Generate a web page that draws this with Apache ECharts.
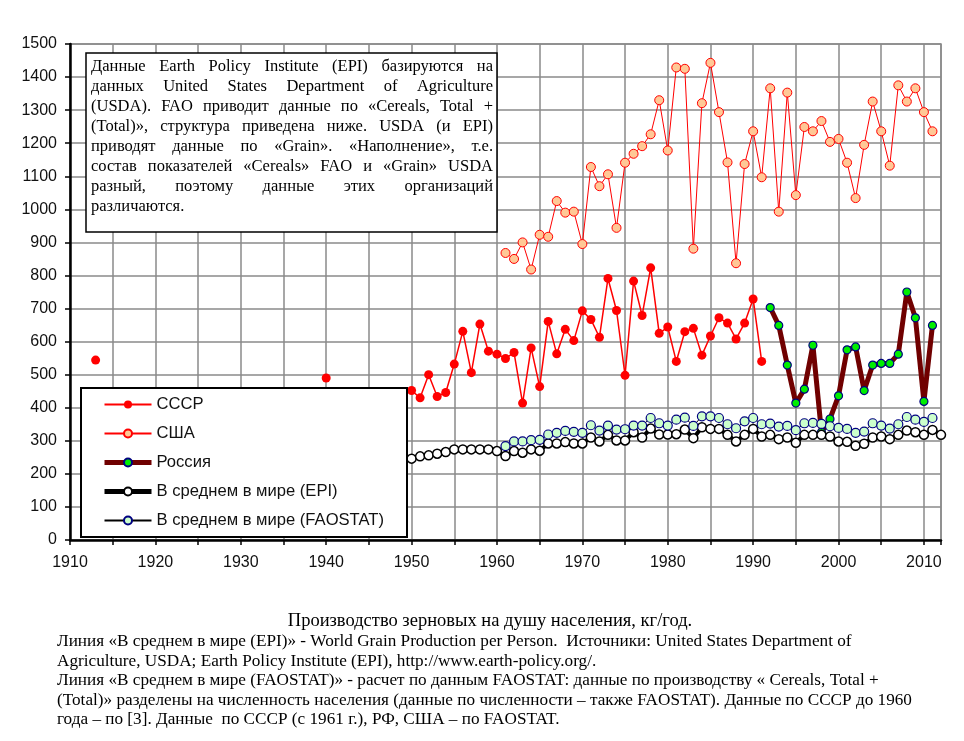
<!DOCTYPE html>
<html><head><meta charset="utf-8">
<script src="https://cdn.jsdelivr.net/npm/echarts@6/dist/echarts.min.js"></script>
<style>html,body{margin:0;padding:0;background:#fff}#c{width:964px;height:741px}</style>
</head><body><div id="c"></div>
<script>
// ---- data ----
const seriesNames = ['СССР', 'США', 'Россия', 'В среднем в мире (EPI)', 'В среднем в мире (FAOSTAT)'];
const ussrEarlyYears = [1913, 1940];
const ussrEarlyValues = [544, 490];
const ussrStart = 1950;
const ussrValues = [452, 430, 500, 434, 446, 532, 631, 506, 653, 571,
  562, 549, 567, 414, 581, 464, 661, 563, 637, 603,
  693, 667, 613, 791, 694, 498, 783, 679, 823, 625,
  644, 540, 630, 640, 559, 617, 672, 656, 608, 656,
  729, 540];
const usaStart = 1961;
const usaValues = [868, 850, 900, 818, 923, 917, 1025, 990, 993, 895,
  1128, 1070, 1106, 944, 1141, 1168, 1191, 1227, 1330, 1178,
  1429, 1425, 881, 1321, 1443, 1294, 1142, 837, 1137, 1236,
  1097, 1366, 993, 1353, 1043, 1249, 1236, 1267, 1204, 1213,
  1141, 1034, 1195, 1326, 1236, 1132, 1375, 1326, 1366, 1294, 1236];
const russiaStart = 1992;
const russiaValues = [703, 649, 529, 414, 456, 589, 326, 366, 436, 575,
  584, 452, 529, 534, 534, 562, 750, 672, 419, 649];
const epiStart = 1950;
const epiValues = [246, 253, 256, 261, 266, 274, 274, 274, 274, 274,
  269, 254, 269, 264, 274, 270, 292, 292, 296, 292,
  292, 310, 298, 318, 301, 301, 326, 310, 337, 319,
  319, 320, 334, 308, 341, 336, 336, 318, 298, 318,
  336, 313, 318, 305, 310, 294, 318, 318, 318, 313,
  298, 297, 285, 291, 310, 313, 305, 318, 331, 326,
  318, 333, 318];
const faoStart = 1961;
const faoValues = [284, 298, 298, 302, 303, 319, 324, 330, 327, 324,
  347, 331, 346, 334, 335, 346, 346, 369, 353, 346,
  364, 370, 345, 374, 374, 369, 350, 338, 359, 369,
  350, 352, 343, 345, 332, 353, 354, 351, 344, 339,
  336, 324, 328, 353, 346, 337, 350, 372, 364, 357, 369];
const boxLines = [
  'Данные Earth Policy Institute (EPI) базируются на',
  'данных United States Department of Agriculture',
  '(USDA). FAO приводит данные по «Cereals, Total +',
  '(Total)», структура приведена ниже. USDA (и EPI)',
  'приводят данные по «Grain». «Наполнение», т.е.',
  'состав показателей «Cereals» FAO и «Grain» USDA',
  'разный, поэтому данные этих организаций',
  'различаются.'
];
const captionTitle = 'Производство зерновых на душу населения, кг/год.';
const captionLines = [
  'Линия «В среднем в мире (EPI)» - World Grain Production per Person.  Источники: United States Department of',
  'Agriculture, USDA; Earth Policy Institute (EPI), http://www.earth-policy.org/.',
  'Линия «В среднем в мире (FAOSTAT)» - расчет по данным FAOSTAT: данные по производству « Cereals, Total +',
  '(Total)» разделены на численность населения (данные по численности – также FAOSTAT). Данные по СССР до 1960',
  'года – по [3]. Данные  по СССР (с 1961 г.), РФ, США – по FAOSTAT.'
];

// ---- build ----
function pairs(start, vals) { return vals.map((v, i) => [start + i, v]); }
const ussrData = [];
ussrEarlyYears.forEach((y, i) => { ussrData.push([y, ussrEarlyValues[i]]); ussrData.push([y + 1, null]); });
pairs(ussrStart, ussrValues).forEach(p => ussrData.push(p));

const canvas = document.createElement('canvas');
const ctx = canvas.getContext('2d');
const boxFontSize = 16.5;
ctx.font = boxFontSize + 'px "Liberation Serif"';
const graphics = [];
graphics.push({ type: 'rect', z: 50, shape: { x: 86, y: 53, width: 411, height: 179 },
  style: { fill: '#fff', stroke: '#000', lineWidth: 1.5 } });
graphics.push({ type: 'rect', z: 50, shape: { x: 81, y: 388, width: 326, height: 149 },
  style: { fill: '#fff', stroke: '#000', lineWidth: 2 } });
const boxLeft = 91, boxW = 402;
boxLines.forEach((line, li) => {
  const words = line.split(' ');
  const widths = words.map(w => ctx.measureText(w).width);
  const total = widths.reduce((a, b) => a + b, 0);
  const last = li === boxLines.length - 1;
  const gap = last ? ctx.measureText(' ').width : (boxW - total) / (words.length - 1);
  let x = boxLeft;
  words.forEach((w, wi) => {
    graphics.push({ type: 'text', z: 51, x: x, y: 67 + li * 20,
      style: { text: w, fontSize: boxFontSize, fontFamily: 'Liberation Serif', fill: '#000', verticalAlign: 'middle', align: 'left' } });
    x += widths[wi] + gap;
  });
});
graphics.push({ type: 'text', z: 51, x: 490, y: 621,
  style: { text: captionTitle, fontSize: 18.5, fontFamily: 'Liberation Serif', fill: '#000', align: 'center', verticalAlign: 'middle' } });
captionLines.forEach((t, i) => {
  graphics.push({ type: 'text', z: 51, x: 57, y: 641.5 + i * 19.5,
    style: { text: t, fontSize: 17.2, fontFamily: 'Liberation Serif', fill: '#000', align: 'left', verticalAlign: 'middle' } });
});

const chart = echarts.init(document.getElementById('c'), null, { renderer: 'canvas' });
chart.setOption({
  animation: false,
  backgroundColor: '#fff',
  grid: { left: 70, right: 23, top: 44, bottom: 201, show: true, borderColor: '#8a8a8a', borderWidth: 1.5 },
  xAxis: {
    type: 'value', min: 1910, max: 2012, interval: 5,
    axisLine: { lineStyle: { color: '#000', width: 2.5 } },
    axisTick: { length: 5, lineStyle: { color: '#000', width: 1.5 } },
    axisLabel: { margin: 15, fontSize: 16, fontFamily: 'Liberation Sans', color: '#111',
      formatter: v => (v % 10 === 0 ? String(v) : '') },
    splitLine: { show: true, lineStyle: { color: '#8a8a8a', width: 1.5 } }
  },
  yAxis: {
    type: 'value', min: 0, max: 1500, interval: 100,
    axisLine: { show: true, lineStyle: { color: '#000', width: 2.5 } },
    axisTick: { show: true, length: 5, lineStyle: { color: '#000', width: 1.5 } },
    axisLabel: { margin: 13, fontSize: 16, fontFamily: 'Liberation Sans', color: '#111',
      formatter: v => String(v) },
    splitLine: { show: true, lineStyle: { color: '#8a8a8a', width: 1.5 } }
  },
  legend: {
    data: [
      { name: seriesNames[0] },
      { name: seriesNames[1] },
      { name: seriesNames[2], lineStyle: { width: 5 } },
      { name: seriesNames[3], lineStyle: { width: 5 } },
      { name: seriesNames[4] }
    ],
    orient: 'vertical', left: 97, top: 391, z: 60,
    itemWidth: 47, itemHeight: 10, itemGap: 12, itemSymbolSize: 9,
    textStyle: { fontSize: 16.6, fontFamily: 'Liberation Sans', color: '#111' }
  },
  graphic: graphics,
  series: [
    { name: seriesNames[0], type: 'line', data: ussrData, symbol: 'circle', symbolSize: 9,
      lineStyle: { color: '#ff0000', width: 1.5 }, itemStyle: { color: '#ff0000', borderWidth: 0 } },
    { name: seriesNames[1], type: 'line', data: pairs(usaStart, usaValues), symbol: 'circle', symbolSize: 9,
      lineStyle: { color: '#ff0000', width: 1 }, itemStyle: { color: '#ffc896', borderColor: '#ff0000', borderWidth: 1 } },
    { name: seriesNames[2], type: 'line', data: pairs(russiaStart, russiaValues), symbol: 'circle', symbolSize: 8,
      lineStyle: { color: '#700000', width: 5 }, itemStyle: { color: '#00ee00', borderColor: '#000080', borderWidth: 1.2 } },
    { name: seriesNames[3], type: 'line', data: pairs(epiStart, epiValues), symbol: 'circle', symbolSize: 9,
      lineStyle: { color: '#000', width: 4 }, itemStyle: { color: '#fff', borderColor: '#000', borderWidth: 1.5 } },
    { name: seriesNames[4], type: 'line', data: pairs(faoStart, faoValues), symbol: 'circle', symbolSize: 9,
      lineStyle: { color: '#000', width: 1 }, itemStyle: { color: '#ccffcc', borderColor: '#000080', borderWidth: 1.2 } }
  ]
});
</script></body></html>
